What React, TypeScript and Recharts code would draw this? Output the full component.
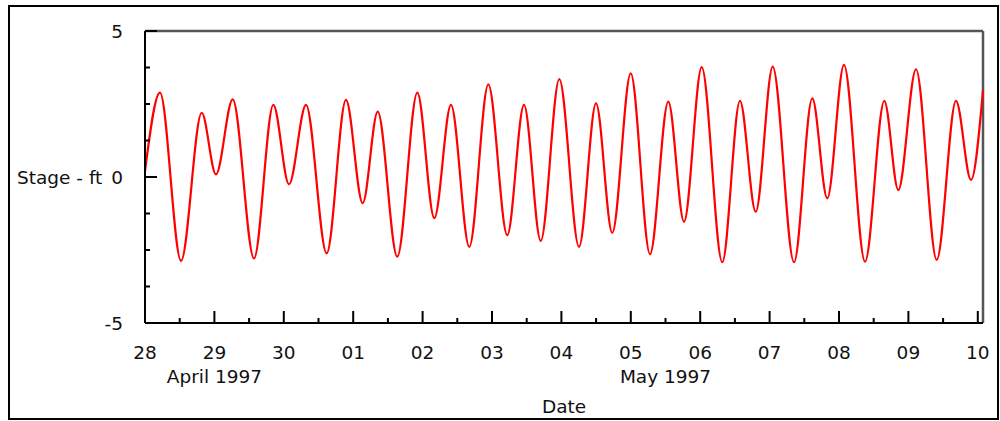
import React from "react";
import { LineChart, Line, XAxis, YAxis, ReferenceLine } from "recharts";

// days since 28 April 1997 00:00, read at each high / low water
const tideDays = [
  0, 0.216, 0.519, 0.817, 1.023, 1.264, 1.571, 1.849, 2.075, 2.32, 2.618, 2.896,
  3.137, 3.353, 3.635, 3.924, 4.169, 4.409, 4.673, 4.947, 5.22, 5.461, 5.702, 5.97,
  6.254, 6.499, 6.733, 6.999, 7.277, 7.54, 7.767, 8.022, 8.318, 8.573, 8.8, 9.045,
  9.352, 9.615, 9.831, 10.072, 10.375, 10.653, 10.854, 11.11, 11.408, 11.686, 11.902, 12.075,
];
// stage in ft
const tideStage = [
  0.2, 2.89, -2.87, 2.2, 0.09, 2.66, -2.79, 2.47, -0.25, 2.47, -2.61, 2.64,
  -0.9, 2.24, -2.73, 2.89, -1.41, 2.47, -2.39, 3.17, -1.99, 2.47, -2.19, 3.35,
  -2.39, 2.52, -1.91, 3.55, -2.64, 2.58, -1.53, 3.76, -2.92, 2.61, -1.19, 3.78,
  -2.92, 2.69, -0.73, 3.84, -2.9, 2.61, -0.45, 3.69, -2.84, 2.61, -0.1, 2.98,
];

const dayLabels = ["28", "29", "30", "01", "02", "03", "04", "05", "06", "07", "08", "09", "10"];
const monthLabels = [
  { at: 1, text: "April 1997" },
  { at: 7.5, text: "May 1997" },
];
const stageTicks = [-5, -3.75, -2.5, -1.25, 0, 1.25, 2.5, 3.75, 5];
const stageLabels = [-5, 0, 5];
const dayEnd = 12.075;

const data = tideDays.map((d, i) => ({ day: d, stage: tideStage[i] }));
const dayTicks = Array.from({ length: dayLabels.length * 2 - 1 }, (_, i) => i / 2);

const FONT = "'DejaVu Sans', sans-serif";
const FS = 18.5;

function DayTick(props: any) {
  const { x, y, payload } = props;
  const v = payload.value as number;
  const major = Number.isInteger(v);
  const month = monthLabels.find((m) => m.at === v);
  return (
    <g>
      <line x1={x} x2={x} y1={y} y2={y - (major ? 12 : 5)} stroke="#000" strokeWidth={2} />
      {major && (
        <text x={x} y={y + 35.5} textAnchor="middle" fontFamily={FONT} fontSize={FS} fill="#111">
          {dayLabels[v]}
        </text>
      )}
      {month && (
        <text x={x} y={y + 60} textAnchor="middle" fontFamily={FONT} fontSize={FS} fill="#111">
          {month.text}
        </text>
      )}
    </g>
  );
}

function StageTick(props: any) {
  const { x, y, payload } = props;
  const v = payload.value as number;
  const major = stageLabels.includes(v);
  return (
    <g>
      <line x1={x} x2={x + (major ? 12 : 5)} y1={y} y2={y} stroke="#000" strokeWidth={2} />
      {major && (
        <text x={x - 22} y={y + 6.5} textAnchor="end" fontFamily={FONT} fontSize={FS} fill="#111">
          {v}
        </text>
      )}
    </g>
  );
}

export default function App() {
  return (
    <div style={{ position: "absolute", left: 0, top: 0, width: 1000, height: 421, background: "#fff" }}>
      <div
        style={{
          position: "absolute",
          left: 8,
          top: 5,
          width: 991,
          height: 415,
          border: "2px solid #000",
          boxSizing: "border-box",
        }}
      />
      <div style={{ position: "absolute", left: 0, top: 0 }}>
        <LineChart width={1000} height={421} data={data} margin={{ top: 31, right: 17, bottom: 0, left: 85 }}>
          <XAxis
            dataKey="day"
            type="number"
            domain={[0, dayEnd]}
            ticks={dayTicks}
            interval={0}
            height={98}
            tickSize={0}
            tickMargin={0}
            tick={<DayTick />}
            axisLine={{ stroke: "#000", strokeWidth: 2 }}
            label={{ value: "Date", position: "insideBottom", offset: 8, fontFamily: FONT, fontSize: FS, fill: "#111" }}
          />
          <YAxis
            type="number"
            domain={[-5, 5]}
            ticks={stageTicks}
            interval={0}
            width={60}
            tickSize={0}
            tickMargin={0}
            tick={<StageTick />}
            axisLine={{ stroke: "#000", strokeWidth: 2 }}
            label={{ value: "Stage - ft", position: "insideLeft", offset: -68, fontFamily: FONT, fontSize: FS, fill: "#111" }}
          />
          <ReferenceLine y={5} stroke="#555" strokeWidth={2.5} />
          <ReferenceLine x={dayEnd} stroke="#555" strokeWidth={2.5} />
          <Line
            type="monotone"
            dataKey="stage"
            stroke="#ff0000"
            strokeWidth={2.2}
            dot={false}
            isAnimationActive={false}
          />
        </LineChart>
      </div>
    </div>
  );
}
